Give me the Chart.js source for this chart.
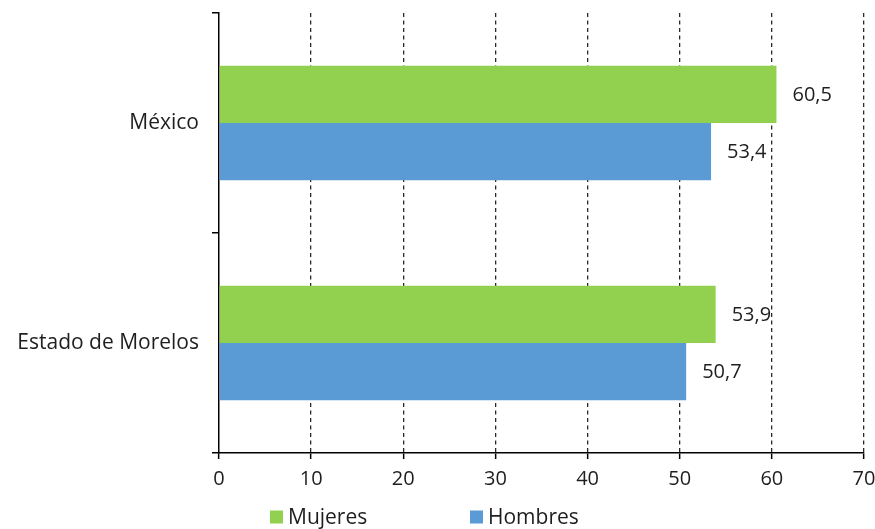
<!DOCTYPE html>
<html>
<head>
<meta charset="utf-8">
<script src="https://cdn.jsdelivr.net/npm/chart.js@4/dist/chart.umd.min.js"></script>
<style>
html,body{margin:0;padding:0;background:#fff;}
#wrap{position:relative;width:875px;height:529px;}
</style>
</head>
<body>
<div id="wrap"><canvas id="c" width="875" height="529"></canvas></div>
<script>
const categories = ["México", "Estado de Morelos"];
const seriesNames = ["Mujeres", "Hombres"];
const mujeres = [60.5, 53.9];
const hombres = [53.4, 50.7];
const xTicks = [0, 10, 20, 30, 40, 50, 60, 70];
const colors = ["#92D050", "#5B9BD5"];
const FONT = "'Open Sans', 'Noto Sans', sans-serif";
const TXT = "#1e1e1e";

const valueLabels = {
  id: 'valueLabels',
  afterDatasetsDraw(chart) {
    const ctx = chart.ctx;
    ctx.save();
    ctx.font = "20px " + FONT;
    ctx.fillStyle = TXT;
    ctx.textAlign = 'left';
    ctx.textBaseline = 'middle';
    chart.data.datasets.forEach((ds, di) => {
      chart.getDatasetMeta(di).data.forEach((bar, i) => {
        const v = ds.data[i];
        ctx.fillText(v.toFixed(1).replace('.', ','), bar.x + 16, bar.y + 1);
      });
    });
    ctx.restore();
  }
};

const customLegend = {
  id: 'customLegend',
  afterDraw(chart) {
    const ctx = chart.ctx;
    ctx.save();
    ctx.font = "21px " + FONT;
    ctx.textBaseline = 'middle';
    ctx.textAlign = 'left';
    const pos = [270, 470];
    const y = 517;
    seriesNames.forEach((name, i) => {
      ctx.fillStyle = colors[i];
      ctx.fillRect(pos[i], y - 6.5, 13, 13);
      ctx.fillStyle = TXT;
      ctx.fillText(name, pos[i] + 18, y + 1);
    });
    ctx.restore();
  }
};

new Chart(document.getElementById('c'), {
  type: 'bar',
  data: {
    labels: categories,
    datasets: [
      { label: seriesNames[0], data: mujeres, backgroundColor: colors[0], borderWidth: 0 },
      { label: seriesNames[1], data: hombres, backgroundColor: colors[1], borderWidth: 0 }
    ]
  },
  options: {
    indexAxis: 'y',
    responsive: false,
    animation: false,
    devicePixelRatio: 1,
    layout: { padding: { top: 13, right: 11, left: 0, bottom: 0 } },
    datasets: { bar: { categoryPercentage: 0.52, barPercentage: 1.0 } },
    plugins: { legend: { display: false }, tooltip: { enabled: false } },
    scales: {
      x: {
        min: xTicks[0], max: xTicks[xTicks.length - 1],
        afterBuildTicks(scale) { scale.ticks = xTicks.map(v => ({ value: v })); },
        afterFit(scale) {
          scale.height = 76;
          scale.paddingLeft = 0; scale.paddingRight = 0;
        },
        grid: {
          color: (c) => (c.tick && c.tick.value === 0) ? 'rgba(0,0,0,0)' : '#2a2a2a',
          lineWidth: 1.3,
          drawTicks: true, tickLength: 6, tickColor: '#000000', tickWidth: 1.5,
          tickBorderDash: []
        },
        border: { display: true, color: '#000000', width: 1.5, dash: [4, 3.5] },
        ticks: { font: { family: FONT, size: 20 }, color: TXT, padding: 8 }
      },
      y: {
        afterFit(scale) {
          scale.width = 219;
          scale.paddingTop = 0; scale.paddingBottom = 0;
        },
        grid: {
          offset: true, drawOnChartArea: false, drawTicks: true, tickLength: 7,
          color: '#000000', lineWidth: 1.5
        },
        border: { display: true, color: '#000000', width: 1.5 },
        ticks: { font: { family: FONT, size: 21 }, color: TXT, padding: 13 }
      }
    }
  },
  plugins: [valueLabels, customLegend]
});
</script>
</body>
</html>
